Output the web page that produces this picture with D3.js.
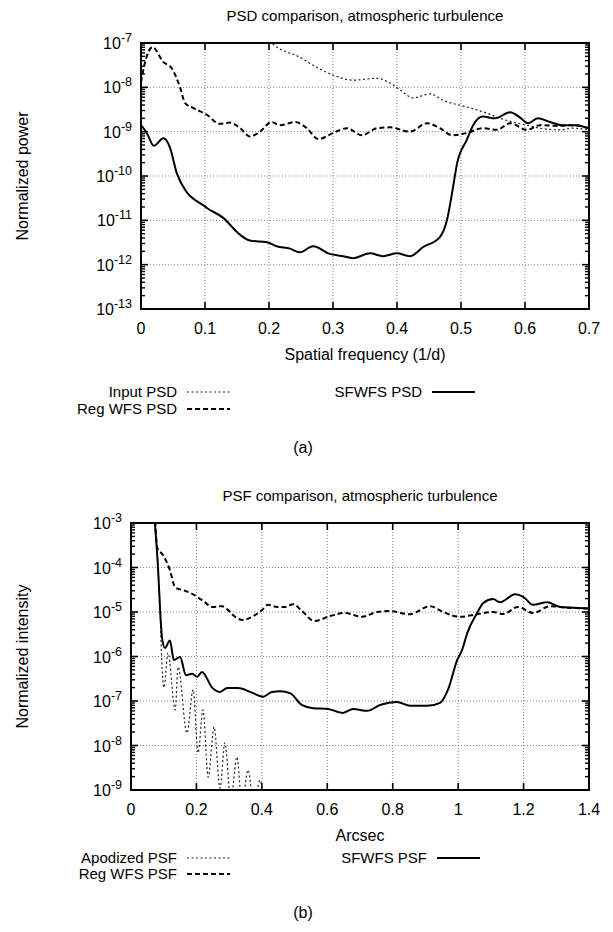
<!DOCTYPE html>
<html>
<head>
<meta charset="utf-8">
<script src="https://cdn.jsdelivr.net/npm/d3@7"></script>
<style>
  body { margin: 0; background: #fff; }
  svg text { font-family: "Liberation Sans", Arial, Helvetica, sans-serif; fill: #000; }
</style>
</head>
<body>
<svg id="chart" width="613" height="932"></svg>
<script>
// ---- panel (a): PSD vs spatial frequency ----
const psdXTicks = [0, 0.1, 0.2, 0.3, 0.4, 0.5, 0.6, 0.7];
const psdYExps = [-7, -8, -9, -10, -11, -12, -13];

const inputPsd = [
  [0.195, 1.3e-7], [0.212, 8.1e-8], [0.248, 4.8e-8], [0.275, 2.8e-8], [0.30, 1.9e-8],
  [0.331, 1.45e-8], [0.369, 1.6e-8], [0.389, 1.25e-8], [0.405, 8.7e-9], [0.425, 5.8e-9],
  [0.452, 7.1e-9], [0.472, 5.1e-9], [0.509, 3.6e-9], [0.541, 2.6e-9], [0.561, 2.0e-9],
  [0.581, 1.65e-9], [0.603, 1.4e-9], [0.623, 1.2e-9], [0.655, 1.1e-9], [0.675, 1.2e-9],
  [0.7, 1.1e-9]
];
const regWfsPsd = [
  [0, 1.3e-8], [0.006, 3.5e-8], [0.018, 8.1e-8], [0.035, 3.7e-8], [0.048, 2.7e-8],
  [0.061, 1.0e-8], [0.069, 4.4e-9], [0.082, 3.4e-9], [0.103, 2.4e-9], [0.123, 1.5e-9],
  [0.139, 1.6e-9], [0.155, 1.2e-9], [0.170, 7.8e-10], [0.186, 1.0e-9], [0.204, 1.65e-9],
  [0.217, 1.4e-9], [0.241, 1.65e-9], [0.259, 1.2e-9], [0.277, 6.8e-10], [0.30, 9.3e-10],
  [0.322, 1.2e-9], [0.345, 8.3e-10], [0.369, 1.2e-9], [0.389, 1.25e-9], [0.420, 1.0e-9],
  [0.447, 1.55e-9], [0.467, 1.2e-9], [0.486, 8.3e-10], [0.509, 9.3e-10], [0.534, 1.2e-9],
  [0.556, 1.1e-9], [0.577, 1.55e-9], [0.603, 1.1e-9], [0.623, 1.4e-9], [0.65, 1.35e-9],
  [0.675, 1.4e-9], [0.7, 1.2e-9]
];
const sfwfsPsd = [
  [0, 1.4e-9], [0.009, 9.3e-10], [0.02, 4.8e-10], [0.035, 7.1e-10], [0.045, 4.5e-10],
  [0.056, 1.15e-10], [0.071, 4.4e-11], [0.084, 2.9e-11], [0.097, 2.2e-11], [0.103, 1.9e-11],
  [0.128, 1.15e-11], [0.155, 4.7e-12], [0.170, 3.5e-12], [0.197, 3.2e-12], [0.212, 2.6e-12],
  [0.233, 2.3e-12], [0.248, 1.9e-12], [0.269, 2.6e-12], [0.295, 1.75e-12], [0.316, 1.55e-12],
  [0.331, 1.4e-12], [0.358, 1.8e-12], [0.378, 1.55e-12], [0.4, 1.8e-12], [0.420, 1.55e-12],
  [0.441, 2.5e-12], [0.467, 4.2e-12], [0.478, 1.0e-11], [0.486, 4.1e-11], [0.494, 1.95e-10],
  [0.509, 6.5e-10], [0.519, 1.4e-9], [0.534, 2.2e-9], [0.553, 2.0e-9], [0.577, 2.75e-9],
  [0.592, 2.1e-9], [0.605, 1.55e-9], [0.620, 2.0e-9], [0.639, 1.65e-9], [0.659, 1.4e-9],
  [0.681, 1.4e-9], [0.698, 1.2e-9]
];

// ---- panel (b): PSF vs arcsec ----
const psfXTicks = [0, 0.2, 0.4, 0.6, 0.8, 1, 1.2, 1.4];
const psfYExps = [-3, -4, -5, -6, -7, -8, -9];

const apodizedPsf = [
  [0.073, 1.0e-3], [0.083, 8.7e-5], [0.089, 1.1e-5], [0.092, 2.0e-6], [0.101, 2.0e-7],
  [0.113, 1.2e-6], [0.135, 6.3e-8], [0.144, 5.8e-7], [0.171, 1.9e-8], [0.19, 1.8e-7],
  [0.205, 6.8e-9], [0.22, 6.3e-8], [0.236, 1.95e-9], [0.254, 2.6e-8], [0.272, 1.1e-9],
  [0.287, 1.15e-8], [0.305, 6e-10], [0.324, 5.5e-9], [0.339, 5e-10], [0.358, 2.8e-9],
  [0.376, 4e-10], [0.394, 1.65e-9], [0.41, 3e-10]
];
const regWfsPsf = [
  [0.074, 1.1e-3], [0.08, 2.8e-4], [0.098, 1.9e-4], [0.119, 8.7e-5], [0.135, 3.6e-5],
  [0.165, 3.0e-5], [0.19, 2.5e-5], [0.226, 1.65e-5], [0.248, 1.3e-5], [0.278, 1.35e-5],
  [0.297, 1.1e-5], [0.318, 7.8e-6], [0.342, 6.6e-6], [0.37, 7.8e-6], [0.4, 1.1e-5],
  [0.419, 1.45e-5], [0.446, 1.3e-5], [0.471, 1.3e-5], [0.496, 1.5e-5], [0.52, 1.1e-5],
  [0.56, 6.3e-6], [0.609, 8.1e-6], [0.654, 9.5e-6], [0.706, 7.8e-6], [0.752, 1.0e-5],
  [0.792, 1.05e-5], [0.853, 8.9e-6], [0.914, 1.35e-5], [0.954, 1.0e-5], [1.006, 7.8e-6],
  [1.058, 8.9e-6], [1.107, 1.0e-5], [1.138, 9.0e-6], [1.183, 1.3e-5], [1.229, 9.5e-6],
  [1.281, 1.35e-5], [1.333, 1.25e-5], [1.398, 1.2e-5]
];
const sfwfsPsf = [
  [0.073, 1.0e-3], [0.083, 8.7e-5], [0.089, 1.1e-5], [0.095, 2.6e-6], [0.104, 1.55e-6],
  [0.119, 2.3e-6], [0.131, 8.3e-7], [0.15, 9.8e-7], [0.168, 3.8e-7], [0.187, 4.1e-7],
  [0.202, 3.5e-7], [0.217, 4.5e-7], [0.248, 2.0e-7], [0.272, 1.6e-7], [0.294, 1.95e-7],
  [0.327, 1.95e-7], [0.364, 1.6e-7], [0.404, 1.25e-7], [0.431, 1.6e-7], [0.456, 1.65e-7],
  [0.486, 1.5e-7], [0.523, 8.1e-8], [0.557, 6.9e-8], [0.602, 6.6e-8], [0.648, 5.4e-8],
  [0.679, 6.6e-8], [0.722, 6.0e-8], [0.761, 8.1e-8], [0.813, 9.5e-8], [0.853, 7.8e-8],
  [0.905, 7.8e-8], [0.945, 9.1e-8], [0.969, 1.8e-7], [0.997, 8.3e-7], [1.012, 1.4e-6],
  [1.028, 3.4e-6], [1.058, 9.5e-6], [1.077, 1.6e-5], [1.107, 1.95e-5], [1.128, 1.65e-5],
  [1.174, 2.5e-5], [1.199, 2.2e-5], [1.229, 1.45e-5], [1.272, 1.65e-5], [1.312, 1.3e-5],
  [1.352, 1.25e-5], [1.398, 1.2e-5]
];

// line styles (gnuplot-like)
const styles = {
  dotted: { width: 1.2, dash: "2,2.5", color: "#222" },
  dashed: { width: 2, dash: "5,3", color: "#000" },
  solid:  { width: 2, dash: null, color: "#000" }
};

const svg = d3.select('#chart');
svg.append('rect').attr('width', 613).attr('height', 932).attr('fill', '#fff');

function drawPanel(opt) {
  const g = svg.append('g');
  const x = d3.scaleLinear().domain(opt.xDomain).range([opt.left, opt.right]);
  const y = d3.scaleLog().domain(opt.yDomain).range([opt.bottom, opt.top]);
  const w = opt.right - opt.left, h = opt.bottom - opt.top;

  // grid
  g.append('g').selectAll('line.gx')
    .data(opt.xTicks.slice(1, -1)).enter().append('line')
    .attr('x1', d => x(d)).attr('x2', d => x(d))
    .attr('y1', opt.top).attr('y2', opt.bottom)
    .attr('stroke', '#666').attr('stroke-width', 0.8).attr('stroke-dasharray', '1,2');
  g.append('g').selectAll('line.gy')
    .data(opt.yExps.slice(1, -1)).enter().append('line')
    .attr('y1', d => y(Math.pow(10, d))).attr('y2', d => y(Math.pow(10, d)))
    .attr('x1', opt.left).attr('x2', opt.right)
    .attr('stroke', '#666').attr('stroke-width', 0.8).attr('stroke-dasharray', '1,2');

  // ticks: major on all four sides, log minors on left/right
  const tk = g.append('g').attr('stroke', '#000');
  opt.xTicks.forEach(v => {
    tk.append('line').attr('x1', x(v)).attr('x2', x(v)).attr('y1', opt.bottom).attr('y2', opt.bottom - 7).attr('stroke-width', 1.6);
    tk.append('line').attr('x1', x(v)).attr('x2', x(v)).attr('y1', opt.top).attr('y2', opt.top + 7).attr('stroke-width', 1.6);
  });
  const ys = y.domain();
  const minors = [];
  for (let e = Math.round(Math.log10(ys[0])); e < Math.round(Math.log10(ys[1])); e++) {
    for (let m = 2; m <= 9; m++) minors.push(m * Math.pow(10, e));
  }
  opt.yExps.forEach(e => {
    const yy = y(Math.pow(10, e));
    tk.append('line').attr('x1', opt.left).attr('x2', opt.left + 7).attr('y1', yy).attr('y2', yy).attr('stroke-width', 1.6);
    tk.append('line').attr('x1', opt.right).attr('x2', opt.right - 7).attr('y1', yy).attr('y2', yy).attr('stroke-width', 1.6);
  });
  minors.forEach(v => {
    const yy = y(v);
    tk.append('line').attr('x1', opt.left).attr('x2', opt.left + 4).attr('y1', yy).attr('y2', yy).attr('stroke-width', 1.4);
    tk.append('line').attr('x1', opt.right).attr('x2', opt.right - 4).attr('y1', yy).attr('y2', yy).attr('stroke-width', 1.4);
  });

  // series
  const clipId = 'clip' + opt.id;
  svg.append('clipPath').attr('id', clipId).append('rect')
    .attr('x', opt.left).attr('y', opt.top).attr('width', w).attr('height', h);
  const line = d3.line().x(d => x(d[0])).y(d => y(d[1])).curve(d3.curveMonotoneX);
  const sg = g.append('g').attr('clip-path', `url(#${clipId})`);
  opt.series.forEach(s => {
    const st = styles[s.style];
    sg.append('path').datum(s.data)
      .attr('d', line)
      .attr('fill', 'none')
      .attr('stroke', st.color)
      .attr('stroke-width', st.width)
      .attr('stroke-linejoin', 'round')
      .attr('stroke-dasharray', st.dash);
  });

  // frame
  g.append('rect').attr('x', opt.left).attr('y', opt.top).attr('width', w).attr('height', h)
    .attr('fill', 'none').attr('stroke', '#000').attr('stroke-width', 2);

  // tick labels
  g.append('g').selectAll('text')
    .data(opt.xTicks).enter().append('text')
    .attr('x', d => x(d)).attr('y', opt.bottom + 25)
    .attr('text-anchor', 'middle').attr('font-size', 16)
    .text(d => d);
  opt.yExps.forEach(e => {
    const t = g.append('text')
      .attr('x', opt.left - 9).attr('y', y(Math.pow(10, e)) + 6)
      .attr('text-anchor', 'end').attr('font-size', 16);
    t.append('tspan').text('10');
    t.append('tspan').attr('dy', -7).attr('font-size', 12.5).text(e);
  });

  // titles
  g.append('text').attr('x', (opt.left + opt.right) / 2).attr('y', opt.top - 22)
    .attr('text-anchor', 'middle').attr('font-size', 15).text(opt.title);
  g.append('text').attr('x', (opt.left + opt.right) / 2).attr('y', opt.bottom + 51)
    .attr('text-anchor', 'middle').attr('font-size', 16).text(opt.xLabel);
  g.append('text')
    .attr('transform', `translate(28,${(opt.top + opt.bottom) / 2}) rotate(-90)`)
    .attr('text-anchor', 'middle').attr('font-size', 16).text(opt.yLabel);

  // legend
  opt.legend.forEach(l => {
    const st = styles[l.style];
    g.append('text').attr('x', l.x).attr('y', l.y + 5)
      .attr('text-anchor', 'end').attr('font-size', 15).text(l.label);
    g.append('line').attr('x1', l.x + 10).attr('x2', l.x + 53)
      .attr('y1', l.y).attr('y2', l.y)
      .attr('stroke', st.color).attr('stroke-width', st.width)
      .attr('stroke-dasharray', st.dash);
  });

  g.append('text').attr('x', opt.capX).attr('y', opt.capY)
    .attr('text-anchor', 'middle').attr('font-size', 16).text(opt.caption);
}

drawPanel({
  id: 'a', left: 141, right: 589, top: 43, bottom: 309,
  xDomain: [0, 0.7], yDomain: [1e-13, 1e-7],
  xTicks: psdXTicks, yExps: psdYExps,
  title: 'PSD comparison, atmospheric turbulence',
  xLabel: 'Spatial frequency (1/d)', yLabel: 'Normalized power',
  series: [
    { data: inputPsd, style: 'dotted' },
    { data: regWfsPsd, style: 'dashed' },
    { data: sfwfsPsd, style: 'solid' }
  ],
  legend: [
    { label: 'Input PSD', style: 'dotted', x: 177, y: 392 },
    { label: 'Reg WFS PSD', style: 'dashed', x: 177, y: 409 },
    { label: 'SFWFS PSD', style: 'solid', x: 422, y: 392 }
  ],
  caption: '(a)', capX: 303, capY: 453
});

drawPanel({
  id: 'b', left: 131, right: 589, top: 523, bottom: 790,
  xDomain: [0, 1.4], yDomain: [1e-9, 1e-3],
  xTicks: psfXTicks, yExps: psfYExps,
  title: 'PSF comparison, atmospheric turbulence',
  xLabel: 'Arcsec', yLabel: 'Normalized intensity',
  series: [
    { data: apodizedPsf, style: 'dotted' },
    { data: regWfsPsf, style: 'dashed' },
    { data: sfwfsPsf, style: 'solid' }
  ],
  legend: [
    { label: 'Apodized PSF', style: 'dotted', x: 177, y: 858 },
    { label: 'Reg WFS PSF', style: 'dashed', x: 177, y: 874 },
    { label: 'SFWFS PSF', style: 'solid', x: 427, y: 858 }
  ],
  caption: '(b)', capX: 303, capY: 918
});
</script>
</body>
</html>
